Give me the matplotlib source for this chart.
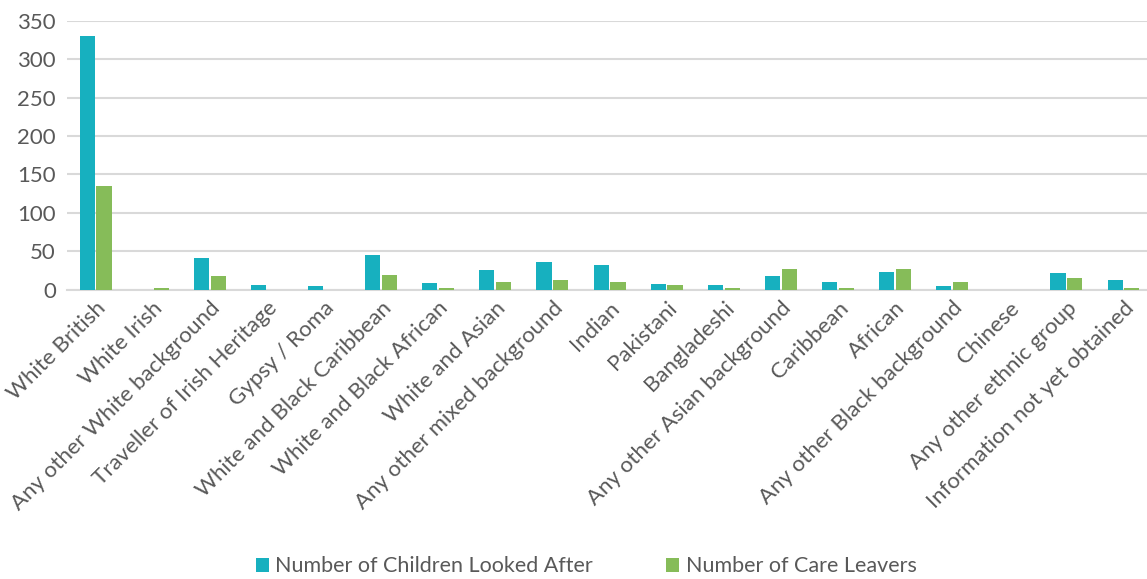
import matplotlib
matplotlib.use("Agg")
import matplotlib.pyplot as plt
import numpy as np

categories = ["White British", "White Irish", "Any other White background",
              "Traveller of Irish Heritage", "Gypsy / Roma", "White and Black Caribbean",
              "White and Black African", "White and Asian", "Any other mixed background",
              "Indian", "Pakistani", "Bangladeshi", "Any other Asian background",
              "Caribbean", "African", "Any other Black background", "Chinese",
              "Any other ethnic group", "Information not yet obtained"]
looked_after = [330, 0, 41, 6, 4, 45, 8, 26, 36, 32, 7, 6, 18, 10, 23, 5, 0, 22, 12]
care_leavers = [135, 2, 18, 0, 0, 19, 2, 10, 12, 10, 6, 2, 27, 2, 27, 10, 0, 15, 2]
series_names = ["Number of Children Looked After", "Number of Care Leavers"]

plt.rcParams['font.family'] = ['Lato', 'DejaVu Sans']
txt = "#595959"
c1, c2 = "#17B0BF", "#86BC59"

fig = plt.figure(figsize=(11.47, 5.79), dpi=100)
ax = fig.add_axes([0.0584, 0.5, 0.946, 0.464])
x = np.arange(len(categories))
w = 0.265
g = 0.015
ax.bar(x - w/2 - g, looked_after, w, color=c1, label=series_names[0], zorder=3)
ax.bar(x + w/2 + g, care_leavers, w, color=c2, label=series_names[1], zorder=3)
ax.set_xlim(-0.5, len(categories) - 0.5)
ax.set_ylim(0, 350)
ax.set_yticks(range(0, 351, 50))
ax.yaxis.grid(True, color="#D9D9D9", linewidth=1.5, zorder=0)
for s in ["top", "right", "left"]:
    ax.spines[s].set_visible(False)
ax.spines["bottom"].set_color("#D9D9D9")
ax.spines["bottom"].set_linewidth(1.5)
ax.tick_params(axis="both", length=0, labelsize=16, colors=txt)
ax.set_xticks(x)
ax.set_xticklabels(categories, rotation=45, ha="right", rotation_mode="anchor")
ax.tick_params(axis="x", pad=6)
ax.tick_params(axis="y", pad=8)
fig.legend(loc="center", bbox_to_anchor=(0.511, 0.022), ncol=2, frameon=False,
           fontsize=15.5, labelcolor=txt, handlelength=0.6, handleheight=0.6,
           handletextpad=0.3, columnspacing=3.4)
fig.savefig("out.png", dpi=100)
